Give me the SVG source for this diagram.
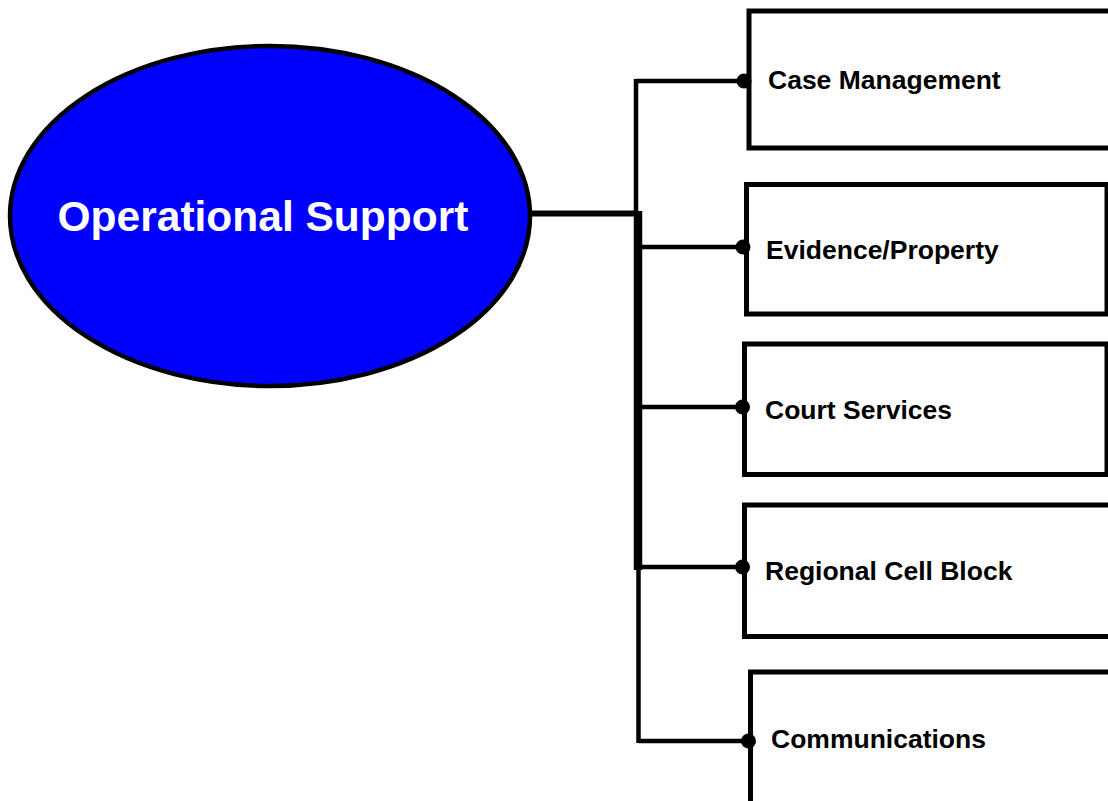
<svg xmlns="http://www.w3.org/2000/svg" width="1108" height="801" viewBox="0 0 1108 801">
  <style>
    .box { fill: #ffffff; stroke: #000000; stroke-width: 5; }
    .label { font-family: "Liberation Sans", Arial, sans-serif; font-weight: bold; font-size: 26.5px; fill: #000000; }
    .title { font-family: "Liberation Sans", Arial, sans-serif; font-weight: bold; font-size: 42.5px; fill: #ffffff; }
    .wire { fill: none; stroke: #000000; stroke-width: 4.5; stroke-linejoin: miter; stroke-linecap: butt; }
    .dot { fill: #000000; }
  </style>
  <rect width="1108" height="801" fill="#ffffff"/>

  <!-- Connectors: trunk and branches to each unit -->
  <g id="connectors">
    <path class="wire" d="M530,213.5 H638" style="stroke-width:6"/>
    <path class="wire" d="M636,79 V570"/>
    <path class="wire" d="M640,211 V570"/>
    <path class="wire" d="M638.5,568 V743"/>
    <path class="wire" d="M636,81 H744"/>
    <path class="wire" d="M640,247 H744"/>
    <path class="wire" d="M640,407 H742"/>
    <path class="wire" d="M640,567 H742"/>
    <path class="wire" d="M638.5,741 H748"/>
  </g>

  <g id="node-operational-support">
    <ellipse cx="270" cy="216" rx="260" ry="170" fill="#0000ff" stroke="#000000" stroke-width="4.5"/>
    <text class="title" x="263" y="231" text-anchor="middle">Operational Support</text>
  </g>

  <g id="node-case-management">
    <rect class="box" x="749" y="11" width="400" height="137"/>
    <circle class="dot" cx="744" cy="81" r="7.5"/>
    <text class="label" x="768" y="89">Case Management</text>
  </g>

  <g id="node-evidence-property">
    <rect class="box" x="746.5" y="184.5" width="360.5" height="129.5"/>
    <circle class="dot" cx="743" cy="247" r="7.5"/>
    <text class="label" x="766" y="259">Evidence/Property</text>
  </g>

  <g id="node-court-services">
    <rect class="box" x="744.5" y="344" width="362.5" height="130.5"/>
    <circle class="dot" cx="742.5" cy="407" r="7.5"/>
    <text class="label" x="765" y="419">Court Services</text>
  </g>

  <g id="node-regional-cell-block">
    <rect class="box" x="744.5" y="505" width="400" height="131.5"/>
    <circle class="dot" cx="742.5" cy="567" r="7.5"/>
    <text class="label" x="765" y="580">Regional Cell Block</text>
  </g>

  <g id="node-communications">
    <rect class="box" x="750.5" y="672" width="400" height="160"/>
    <circle class="dot" cx="748.5" cy="741" r="7.5"/>
    <text class="label" x="771" y="748">Communications</text>
  </g>
</svg>
